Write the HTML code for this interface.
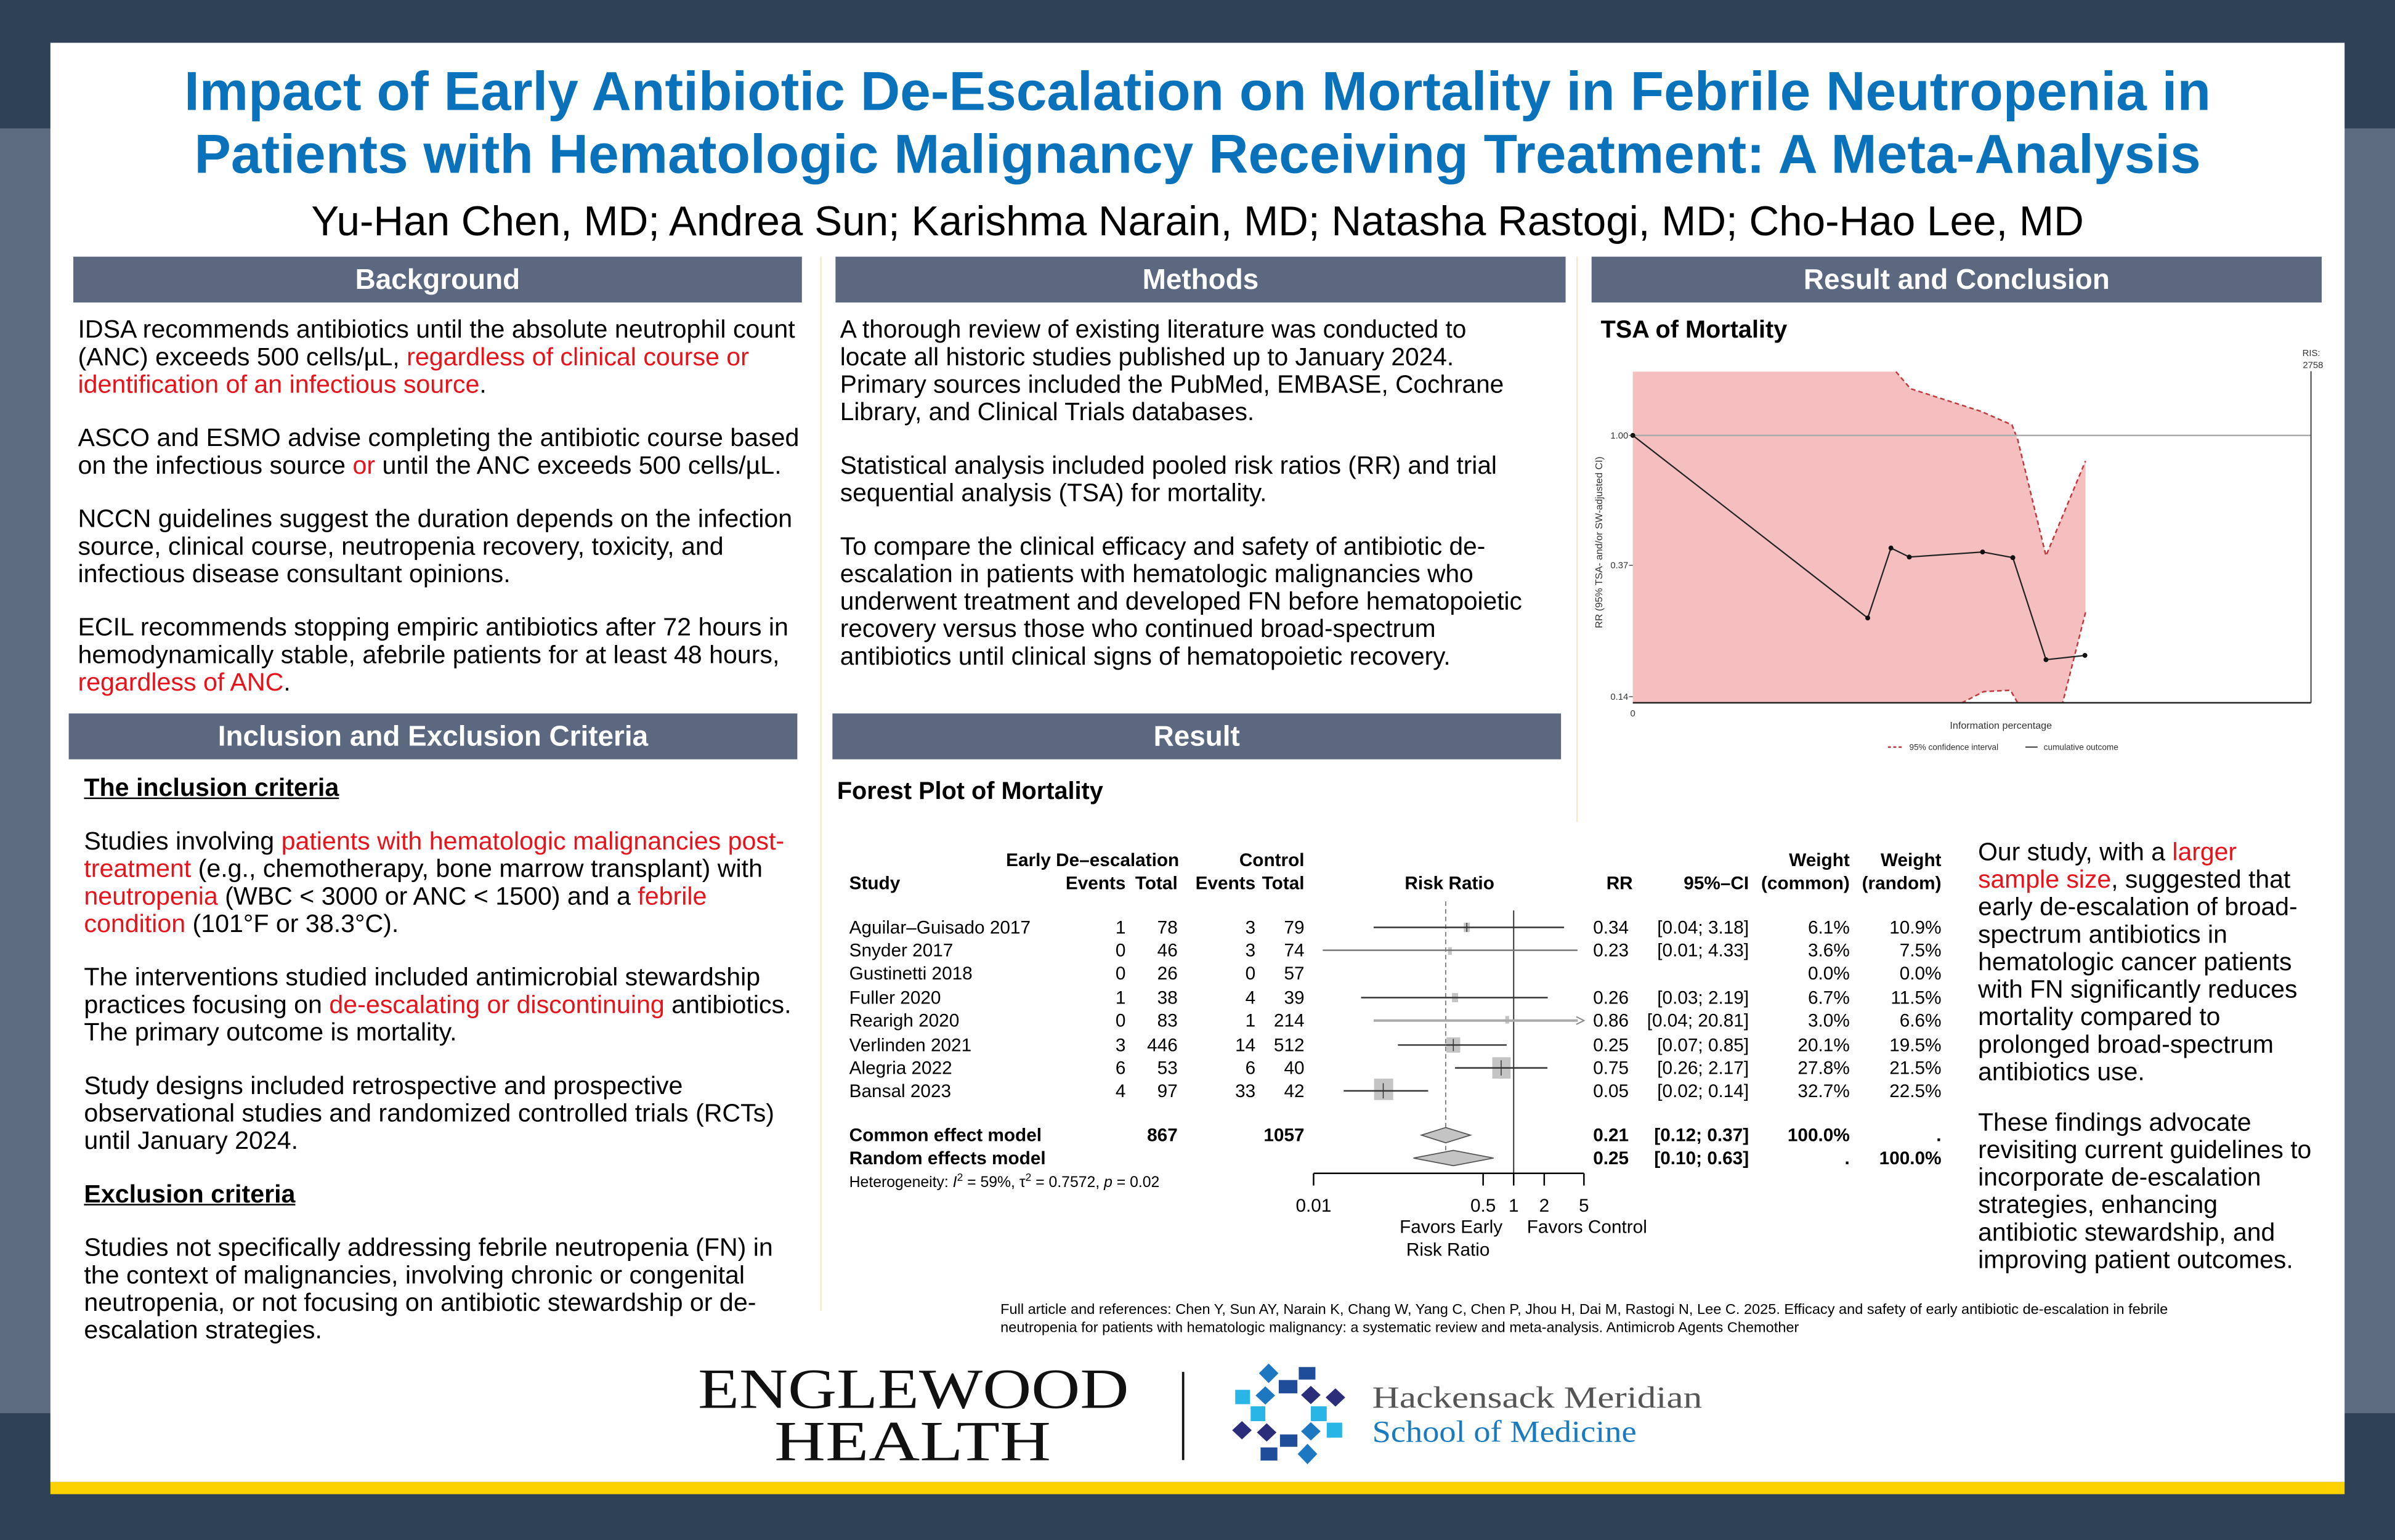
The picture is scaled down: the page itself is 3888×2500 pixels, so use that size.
<!DOCTYPE html>
<html><head><meta charset="utf-8"><style>
html,body{margin:0;padding:0;width:3888px;height:2500px;overflow:hidden;background:#5d6b80}
#w{position:absolute;left:0;top:0;width:1568px;height:1008px;transform:scale(2.47959,2.48016);transform-origin:0 0;font-family:"Liberation Sans",sans-serif;background:#5d6b80}
.abs{position:absolute}
.hd{position:absolute;height:30px;background:#5b6880;color:#fff;font-weight:bold;font-size:18.5px;line-height:30px;text-align:center}
.tx{position:absolute;font-size:16.6px;line-height:18px;color:#000;white-space:nowrap}
.tx p{margin:0 0 17px 0}
.r{color:#e8121a}
.u{font-weight:bold;text-decoration:underline}
</style></head><body><div id="w">
<div class="abs" style="left:0;top:0;width:1568px;height:84px;background:#2f4157"></div>
<div class="abs" style="left:0;top:925px;width:1568px;height:83px;background:#2f4157"></div>
<div class="abs" style="left:33px;top:28px;width:1502px;height:942px;background:#fff"></div>
<div class="abs" style="left:33px;top:970px;width:1502px;height:8px;background:#fcd200"></div>
<div class="abs" style="left:537px;top:168px;width:1px;height:690px;background:#f3ecc0"></div>
<div class="abs" style="left:1032px;top:168px;width:1px;height:370px;background:#f3ecc0"></div>

<div class="abs" style="left:33px;top:39px;width:1502px;text-align:center;color:#0a72bb;font-weight:bold;font-size:36px;line-height:41px">Impact of Early Antibiotic De-Escalation on Mortality in Febrile Neutropenia in<br>Patients with Hematologic Malignancy Receiving Treatment: A Meta-Analysis</div>
<div class="abs" style="left:33px;top:129px;width:1502px;text-align:center;color:#000;font-size:27.2px;line-height:32px">Yu-Han Chen, MD; Andrea Sun; Karishma Narain, MD; Natasha Rastogi, MD; Cho-Hao Lee, MD</div>

<div class="hd" style="left:48px;top:168px;width:477px">Background</div>
<div class="hd" style="left:547px;top:168px;width:478px">Methods</div>
<div class="hd" style="left:1042px;top:168px;width:478px">Result and Conclusion</div>
<div class="hd" style="left:45px;top:467px;width:477px">Inclusion and Exclusion Criteria</div>
<div class="hd" style="left:545px;top:467px;width:477px">Result</div>

<div class="tx" style="left:51px;top:207px">
<p>IDSA recommends antibiotics until the absolute neutrophil count<br>(ANC) exceeds 500 cells/µL, <span class="r">regardless of clinical course or<br>identification of an infectious source</span>.</p>
<p>ASCO and ESMO advise completing the antibiotic course based<br>on the infectious source <span class="r">or</span> until the ANC exceeds 500 cells/µL.</p>
<p>NCCN guidelines suggest the duration depends on the infection<br>source, clinical course, neutropenia recovery, toxicity, and<br>infectious disease consultant opinions.</p>
<p>ECIL recommends stopping empiric antibiotics after 72 hours in<br>hemodynamically stable, afebrile patients for at least 48 hours,<br><span class="r">regardless of ANC</span>.</p>
</div>

<div class="tx" style="left:55px;top:507px">
<p><span class="u">The inclusion criteria</span></p>
<p>Studies involving <span class="r">patients with hematologic malignancies post-<br>treatment</span> (e.g., chemotherapy, bone marrow transplant) with<br><span class="r">neutropenia</span> (WBC &lt; 3000 or ANC &lt; 1500) and a <span class="r">febrile<br>condition</span> (101°F or 38.3°C).</p>
<p>The interventions studied included antimicrobial stewardship<br>practices focusing on <span class="r">de-escalating or discontinuing</span> antibiotics.<br>The primary outcome is mortality.</p>
<p>Study designs included retrospective and prospective<br>observational studies and randomized controlled trials (RCTs)<br>until January 2024.</p>
<p><span class="u">Exclusion criteria</span></p>
<p>Studies not specifically addressing febrile neutropenia (FN) in<br>the context of malignancies, involving chronic or congenital<br>neutropenia, or not focusing on antibiotic stewardship or de-<br>escalation strategies.</p>
</div>

<div class="tx" style="left:550px;top:207px;font-size:16.4px">
<p>A thorough review of existing literature was conducted to<br>locate all historic studies published up to January 2024.<br>Primary sources included the PubMed, EMBASE, Cochrane<br>Library, and Clinical Trials databases.</p>
<p>Statistical analysis included pooled risk ratios (RR) and trial<br>sequential analysis (TSA) for mortality.</p>
<p>To compare the clinical efficacy and safety of antibiotic de-<br>escalation in patients with hematologic malignancies who<br>underwent treatment and developed FN before hematopoietic<br>recovery versus those who continued broad-spectrum<br>antibiotics until clinical signs of hematopoietic recovery.</p>
</div>

<div class="abs" style="left:1048px;top:208px;font-weight:bold;font-size:16px">TSA of Mortality</div>
<div class="abs" style="left:548px;top:510px;font-weight:bold;font-size:16px">Forest Plot of Mortality</div>

<div class="tx" style="left:1295px;top:549px;font-size:16.5px">
<p>Our study, with a <span class="r">larger<br>sample size</span>, suggested that<br>early de-escalation of broad-<br>spectrum antibiotics in<br>hematologic cancer patients<br>with FN significantly reduces<br>mortality compared to<br>prolonged broad-spectrum<br>antibiotics use.</p>
<p style="margin-top:-2px">These findings advocate<br>revisiting current guidelines to<br>incorporate de-escalation<br>strategies, enhancing<br>antibiotic stewardship, and<br>improving patient outcomes.</p>
</div>

<div class="abs" style="left:655px;top:852px;font-size:9.5px;line-height:12px;color:#000;white-space:nowrap">Full article and references: Chen Y, Sun AY, Narain K, Chang W, Yang C, Chen P, Jhou H, Dai M, Rastogi N, Lee C. 2025. Efficacy and safety of early antibiotic de-escalation in febrile<br>neutropenia for patients with hematologic malignancy: a systematic review and meta-analysis. Antimicrob Agents Chemother</div>

<svg class="abs" style="left:0;top:0" width="1568" height="1008" font-family="Liberation Sans, sans-serif">
<!-- TSA -->
<path d="M1069,243.3 L1241.3,243.3 L1250.8,254.4 L1297.1,269.3 L1317.2,278.1 L1321,287.8 L1339.5,363.8 L1365.4,301.7 L1365.4,400.8 L1350.4,460.1 L1321,460.1 L1316.2,451.8 L1298.7,452.7 L1284.3,460.1 L1069,460.1 Z" fill="#f5bfc0"/>
<path d="M1241.3,243.3 L1250.8,254.4 L1297.1,269.3 L1317.2,278.1 L1321,287.8 L1339.5,363.8 L1365.4,301.7" fill="none" stroke="#c0393f" stroke-width="1" stroke-dasharray="3,2"/>
<path d="M1365.4,400.8 L1350.4,460.1 M1284.3,460.1 L1298.7,452.7 L1316.2,451.8 L1321,460.1" fill="none" stroke="#c0393f" stroke-width="1" stroke-dasharray="3,2"/>
<line x1="1069" y1="285" x2="1513" y2="285" stroke="#aaa" stroke-width="1"/>
<line x1="1513" y1="243" x2="1513" y2="460" stroke="#444" stroke-width="0.8"/>
<line x1="1069" y1="460" x2="1513" y2="460" stroke="#222" stroke-width="1"/>
<polyline points="1069,285 1222.8,404.5 1238,358.7 1250,364.6 1298,361.3 1317.8,365 1339.5,431.8 1365,429" fill="none" stroke="#222" stroke-width="0.9"/>
<g fill="#111"><circle cx="1069" cy="285" r="1.6"/><circle cx="1222.8" cy="404.5" r="1.6"/><circle cx="1238" cy="358.7" r="1.6"/><circle cx="1250" cy="364.6" r="1.6"/><circle cx="1298" cy="361.3" r="1.6"/><circle cx="1317.8" cy="365" r="1.6"/><circle cx="1339.5" cy="431.8" r="1.6"/><circle cx="1365" cy="429" r="1.6"/></g>
<g font-size="6" fill="#333"><text x="1066" y="287" text-anchor="end">1.00</text><text x="1066" y="372" text-anchor="end">0.37</text><text x="1066" y="458" text-anchor="end">0.14</text>
<line x1="1066.5" y1="285" x2="1069" y2="285" stroke="#333" stroke-width=".5"/><line x1="1066.5" y1="370" x2="1069" y2="370" stroke="#333" stroke-width=".5"/><line x1="1066.5" y1="456" x2="1069" y2="456" stroke="#333" stroke-width=".5"/>
<text x="1069" y="469" text-anchor="middle">0</text>
<text x="1519" y="233" text-anchor="end">RIS:</text><text x="1521" y="241" text-anchor="end">2758</text>
<text x="1310" y="477" text-anchor="middle" font-size="6.5">Information percentage</text>
<text transform="translate(1049,355) rotate(-90)" text-anchor="middle" font-size="6.5">RR (95% TSA- and/or SW-adjusted CI)</text>
<line x1="1236" y1="489" x2="1245" y2="489" stroke="#c0393f" stroke-dasharray="2,1.5"/>
<text x="1250" y="491" font-size="5.5">95% confidence interval</text>
<line x1="1326" y1="489" x2="1334" y2="489" stroke="#222" stroke-width=".7"/>
<text x="1338" y="491" font-size="5.5">cumulative outcome</text></g>

<!-- Forest -->
<g font-size="12" fill="#000">
<g font-weight="bold">
<text x="772" y="567" text-anchor="end">Early De–escalation</text>
<text x="854" y="567" text-anchor="end">Control</text>
<text x="1211" y="567" text-anchor="end">Weight</text>
<text x="1271" y="567" text-anchor="end">Weight</text>
<text x="556" y="582">Study</text>
<text x="737" y="582" text-anchor="end">Events</text>
<text x="771" y="582" text-anchor="end">Total</text>
<text x="822" y="582" text-anchor="end">Events</text>
<text x="854" y="582" text-anchor="end">Total</text>
<text x="949" y="582" text-anchor="middle">Risk Ratio</text>
<text x="1069" y="582" text-anchor="end">RR</text>
<text x="1145" y="582" text-anchor="end">95%–CI</text>
<text x="1211" y="582" text-anchor="end">(common)</text>
<text x="1271" y="582" text-anchor="end">(random)</text>
</g>
<g>
<text x="556" y="611">Aguilar–Guisado 2017</text><text x="737" y="611" text-anchor="end">1</text><text x="771" y="611" text-anchor="end">78</text><text x="822" y="611" text-anchor="end">3</text><text x="854" y="611" text-anchor="end">79</text><text x="1043" y="611">0.34</text><text x="1145" y="611" text-anchor="end">[0.04;  3.18]</text><text x="1211" y="611" text-anchor="end">6.1%</text><text x="1271" y="611" text-anchor="end">10.9%</text>
<text x="556" y="626">Snyder 2017</text><text x="737" y="626" text-anchor="end">0</text><text x="771" y="626" text-anchor="end">46</text><text x="822" y="626" text-anchor="end">3</text><text x="854" y="626" text-anchor="end">74</text><text x="1043" y="626">0.23</text><text x="1145" y="626" text-anchor="end">[0.01;  4.33]</text><text x="1211" y="626" text-anchor="end">3.6%</text><text x="1271" y="626" text-anchor="end">7.5%</text>
<text x="556" y="641">Gustinetti 2018</text><text x="737" y="641" text-anchor="end">0</text><text x="771" y="641" text-anchor="end">26</text><text x="822" y="641" text-anchor="end">0</text><text x="854" y="641" text-anchor="end">57</text><text x="1211" y="641" text-anchor="end">0.0%</text><text x="1271" y="641" text-anchor="end">0.0%</text>
<text x="556" y="657">Fuller 2020</text><text x="737" y="657" text-anchor="end">1</text><text x="771" y="657" text-anchor="end">38</text><text x="822" y="657" text-anchor="end">4</text><text x="854" y="657" text-anchor="end">39</text><text x="1043" y="657">0.26</text><text x="1145" y="657" text-anchor="end">[0.03;  2.19]</text><text x="1211" y="657" text-anchor="end">6.7%</text><text x="1271" y="657" text-anchor="end">11.5%</text>
<text x="556" y="672">Rearigh 2020</text><text x="737" y="672" text-anchor="end">0</text><text x="771" y="672" text-anchor="end">83</text><text x="822" y="672" text-anchor="end">1</text><text x="854" y="672" text-anchor="end">214</text><text x="1043" y="672">0.86</text><text x="1145" y="672" text-anchor="end">[0.04; 20.81]</text><text x="1211" y="672" text-anchor="end">3.0%</text><text x="1271" y="672" text-anchor="end">6.6%</text>
<text x="556" y="688">Verlinden 2021</text><text x="737" y="688" text-anchor="end">3</text><text x="771" y="688" text-anchor="end">446</text><text x="822" y="688" text-anchor="end">14</text><text x="854" y="688" text-anchor="end">512</text><text x="1043" y="688">0.25</text><text x="1145" y="688" text-anchor="end">[0.07;  0.85]</text><text x="1211" y="688" text-anchor="end">20.1%</text><text x="1271" y="688" text-anchor="end">19.5%</text>
<text x="556" y="703">Alegria 2022</text><text x="737" y="703" text-anchor="end">6</text><text x="771" y="703" text-anchor="end">53</text><text x="822" y="703" text-anchor="end">6</text><text x="854" y="703" text-anchor="end">40</text><text x="1043" y="703">0.75</text><text x="1145" y="703" text-anchor="end">[0.26;  2.17]</text><text x="1211" y="703" text-anchor="end">27.8%</text><text x="1271" y="703" text-anchor="end">21.5%</text>
<text x="556" y="718">Bansal 2023</text><text x="737" y="718" text-anchor="end">4</text><text x="771" y="718" text-anchor="end">97</text><text x="822" y="718" text-anchor="end">33</text><text x="854" y="718" text-anchor="end">42</text><text x="1043" y="718">0.05</text><text x="1145" y="718" text-anchor="end">[0.02;  0.14]</text><text x="1211" y="718" text-anchor="end">32.7%</text><text x="1271" y="718" text-anchor="end">22.5%</text>
</g>
<g font-weight="bold">
<text x="556" y="747">Common effect model</text><text x="771" y="747" text-anchor="end">867</text><text x="854" y="747" text-anchor="end">1057</text><text x="1043" y="747">0.21</text><text x="1145" y="747" text-anchor="end">[0.12;  0.37]</text><text x="1211" y="747" text-anchor="end">100.0%</text><text x="1271" y="747" text-anchor="end">.</text>
<text x="556" y="762">Random effects model</text><text x="1043" y="762">0.25</text><text x="1145" y="762" text-anchor="end">[0.10;  0.63]</text><text x="1211" y="762" text-anchor="end">.</text><text x="1271" y="762" text-anchor="end">100.0%</text>
</g>
<text x="556" y="777" font-size="10">Heterogeneity: <tspan font-style="italic">I</tspan><tspan dy="-4" font-size="7">2</tspan><tspan dy="4"> = 59%, τ</tspan><tspan dy="-4" font-size="7">2</tspan><tspan dy="4"> = 0.7572, </tspan><tspan font-style="italic">p</tspan> = 0.02</text>
<text x="860" y="793" text-anchor="middle">0.01</text><text x="971" y="793" text-anchor="middle">0.5</text><text x="991" y="793" text-anchor="middle">1</text><text x="1011" y="793" text-anchor="middle">2</text><text x="1037" y="793" text-anchor="middle">5</text>
<text x="950" y="807" text-anchor="middle">Favors Early</text><text x="1039" y="807" text-anchor="middle">Favors Control</text>
<text x="948" y="822" text-anchor="middle">Risk Ratio</text>
</g>
<line x1="946.5" y1="590" x2="946.5" y2="760" stroke="#777" stroke-width=".7" stroke-dasharray="3,2"/>
<line x1="991" y1="596" x2="991" y2="768" stroke="#333" stroke-width=".8"/>
<g fill="#c4c4c4">
<rect x="958.3" y="604" width="4" height="6"/><rect x="948" y="620" width="2.5" height="5"/><rect x="950.6" y="650" width="4" height="6"/><rect x="985.5" y="665" width="2.5" height="5"/>
<rect x="947" y="679" width="9" height="10"/><rect x="977" y="692" width="12" height="14"/><rect x="899.6" y="706" width="12.5" height="14"/>
</g>
<g stroke="#333" stroke-width="1">
<line x1="899.3" y1="607" x2="1024" y2="607"/><line x1="866" y1="622" x2="1032.8" y2="622" stroke="#777"/><line x1="891.1" y1="653" x2="1013.3" y2="653"/>
<line x1="915.2" y1="684" x2="986.4" y2="684"/><line x1="952.6" y1="699" x2="1013.1" y2="699"/><line x1="879.7" y1="714" x2="935" y2="714"/>
<line x1="960.3" y1="604" x2="960.3" y2="610" stroke-width=".6"/><line x1="951.5" y1="680" x2="951.5" y2="688" stroke-width=".6"/><line x1="982.8" y1="694" x2="982.8" y2="704" stroke-width=".6"/><line x1="905.6" y1="709" x2="905.6" y2="719" stroke-width=".6"/>
</g>
<line x1="899.3" y1="668" x2="1033" y2="668" stroke="#aaa" stroke-width="1.6"/>
<path d="M1032,665.5 L1037,668 L1032,670.5" fill="none" stroke="#888" stroke-width=".8"/>
<polygon points="930.6,743 946.5,738 962.7,743 946.5,748" fill="#c4c4c4" stroke="#555" stroke-width=".7"/>
<polygon points="925.4,758 951.5,753 977.8,758 951.5,763" fill="#c4c4c4" stroke="#555" stroke-width=".7"/>
<g stroke="#000" stroke-width="1"><line x1="860" y1="768" x2="1037" y2="768"/><line x1="860" y1="768" x2="860" y2="776"/><line x1="971" y1="768" x2="971" y2="776"/><line x1="991" y1="768" x2="991" y2="776"/><line x1="1011" y1="768" x2="1011" y2="776"/><line x1="1037" y1="768" x2="1037" y2="776"/></g>

<!-- Logos -->
<text x="457" y="921.5" font-family="Liberation Serif, serif" font-size="37" textLength="282" lengthAdjust="spacingAndGlyphs" fill="#111">ENGLEWOOD</text>
<text x="507" y="955.7" font-family="Liberation Serif, serif" font-size="37" textLength="181" lengthAdjust="spacingAndGlyphs" fill="#111">HEALTH</text>
<line x1="774.6" y1="898" x2="774.6" y2="955.7" stroke="#111" stroke-width="1.5"/>
<g>
<polygon points="830.6,892.5 837,898.9 830.6,905.3 824.2,898.9" fill="#1e78c1"/>
<rect x="850.3" y="894.8" width="10.9" height="8.2" fill="#1f4d99"/>
<rect x="837.2" y="903.3" width="12.2" height="8.7" fill="#1f4d99"/>
<rect x="808.7" y="909.7" width="9.7" height="9.4" fill="#29b5e5"/>
<polygon points="828.4,907.4 834.8,913.4 828.4,919.4 822,913.4" fill="#1e78c1"/>
<polygon points="858.2,907.1 864.6,913.1 858.2,919.1 851.8,913.1" fill="#2b2d7a"/>
<polygon points="874.3,908.7 880.7,914.7 874.3,920.7 867.9,914.7" fill="#2b2d7a"/>
<rect x="818.8" y="920.5" width="9.6" height="9.7" fill="#29b5e5"/>
<rect x="858.2" y="920.5" width="10.4" height="9.7" fill="#29b5e5"/>
<rect x="868.6" y="931.2" width="10.1" height="9.8" fill="#29b5e5"/>
<polygon points="813.1,930.2 819.5,936.2 813.1,942.2 806.7,936.2" fill="#2b2d7a"/>
<polygon points="829.3,931.6 835.7,937.6 829.3,943.6 822.9,937.6" fill="#2b2d7a"/>
<polygon points="858.2,930.9 864.6,936.9 858.2,942.9 851.8,936.9" fill="#1e78c1"/>
<rect x="838" y="938.9" width="11.4" height="8.1" fill="#1f4d99"/>
<rect x="825.3" y="947.4" width="11" height="8.6" fill="#1f4d99"/>
<polygon points="856,945 862.4,951.7 856,958.4 849.6,951.7" fill="#1e78c1"/>
</g>
<text x="898.4" y="921.4" font-family="Liberation Serif, serif" font-size="20" textLength="216" lengthAdjust="spacingAndGlyphs" fill="#555">Hackensack Meridian</text>
<text x="898.4" y="943.6" font-family="Liberation Serif, serif" font-size="20" textLength="173" lengthAdjust="spacingAndGlyphs" fill="#1a7bbf">School of Medicine</text>
</svg>
</div></body></html>
